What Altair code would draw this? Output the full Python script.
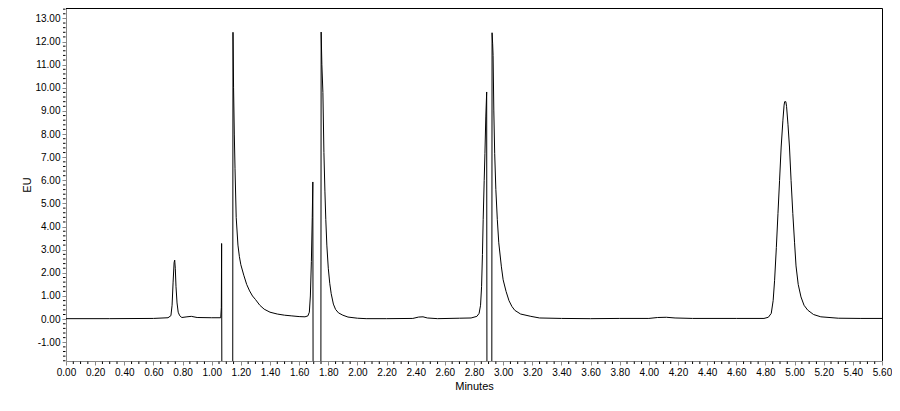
import altair as alt
import pandas as pd

# Chromatogram trace (time in minutes, signal in EU)
times = [
    0.00, 0.30, 0.60, 0.70, 0.72, 0.728, 0.735, 0.742, 0.746, 0.750, 0.755, 0.762, 0.770, 0.780, 0.795,
    0.83, 0.86, 0.90, 1.00, 1.062, 1.066, 1.068, 1.070, 1.144, 1.146, 1.150, 1.155, 1.160, 1.168, 1.18,
    1.19, 1.20, 1.22, 1.24, 1.26, 1.28, 1.30, 1.33, 1.36, 1.40, 1.45, 1.50, 1.55, 1.60, 1.64,
    1.66, 1.67, 1.677, 1.684, 1.690, 1.694, 1.696, 1.749, 1.751, 1.756, 1.763, 1.770, 1.777, 1.783, 1.79,
    1.80, 1.81, 1.82, 1.835, 1.85, 1.87, 1.90, 1.935, 2.00, 2.06, 2.20, 2.38, 2.42, 2.45, 2.48,
    2.55, 2.70, 2.78, 2.82, 2.835, 2.845, 2.852, 2.858, 2.863, 2.870, 2.875, 2.881, 2.887, 2.889, 2.922,
    2.924, 2.928, 2.931, 2.936, 2.942, 2.95, 2.96, 2.97, 2.988, 3.00, 3.02, 3.04, 3.06, 3.08, 3.12,
    3.19, 3.25, 3.40, 3.60, 3.80, 4.00, 4.06, 4.12, 4.18, 4.30, 4.60, 4.79, 4.82, 4.84, 4.853,
    4.863, 4.875, 4.886, 4.897, 4.908, 4.92, 4.928, 4.932, 4.940, 4.945, 4.955, 4.965, 4.976, 4.988, 5.00,
    5.01, 5.025, 5.044, 5.065, 5.09, 5.13, 5.18, 5.30, 5.45, 5.60,
]
signal = [
    0.02, 0.02, 0.03, 0.06, 0.15, 0.6, 1.6, 2.45, 2.55, 2.2, 1.4, 0.7, 0.3, 0.15, 0.07,
    0.10, 0.12, 0.07, 0.06, 0.06, 0.5, 3.27, -4.0, -4.0, 12.4, 10.0, 8.0, 6.5, 4.4, 3.2,
    2.7, 2.35, 1.9, 1.5, 1.22, 1.0, 0.85, 0.6, 0.43, 0.3, 0.22, 0.17, 0.14, 0.11, 0.10,
    0.14, 0.3, 1.0, 2.5, 4.4, 5.93, -4.0, -4.0, 12.41, 11.0, 9.8, 7.2, 5.5, 4.3, 3.2,
    2.2, 1.55, 1.1, 0.65, 0.42, 0.27, 0.17, 0.09, 0.04, 0.02, 0.02, 0.03, 0.09, 0.10, 0.05,
    0.02, 0.04, 0.05, 0.12, 0.25, 0.6, 1.4, 2.8, 4.3, 6.0, 7.15, 8.74, 9.82, -4.0, -4.0,
    12.38, 11.9, 11.4, 9.0, 7.15, 5.6, 4.3, 3.3, 2.26, 1.7, 1.2, 0.8, 0.55, 0.38, 0.22,
    0.12, 0.05, 0.03, 0.02, 0.03, 0.03, 0.07, 0.08, 0.05, 0.03, 0.03, 0.03, 0.08, 0.25, 0.8,
    1.68, 3.1, 4.56, 6.0, 7.44, 8.6, 9.25, 9.4, 9.4, 9.2, 8.4, 7.44, 6.0, 4.56, 3.3,
    2.3, 1.5, 0.96, 0.6, 0.39, 0.2, 0.1, 0.04, 0.03, 0.03,
]

x_major = [round(0.2 * i, 2) for i in range(29)]
y_major = list(range(-1, 14))
x_minor = [round(0.05 * i, 2) for i in range(113) if i % 4 != 0]
y_minor = [round(-1.8 + 0.2 * i, 1) for i in range(77) if (i - 9) % 5 != 0]

X_DOMAIN = [0, 5.6]
Y_DOMAIN = [-1.81, 13.45]
W, H = 816, 353
FONT = "Liberation Sans"
TXT = "#333333"

df = pd.DataFrame({"t": times, "eu": signal})

xscale = alt.Scale(domain=X_DOMAIN, nice=False, zero=False)
yscale = alt.Scale(domain=Y_DOMAIN, nice=False, zero=False)

lbl = "datum.value < 0 ? '-' + format(-datum.value, '.2f') : format(datum.value, '.2f')"

xaxis = alt.Axis(values=x_major, labelExpr=lbl, title="Minutes", grid=False,
                 tickSize=4, labelFlush=False, labelOverlap=False, labelPadding=2,
                 titlePadding=3, titleFontWeight=400, labelFontSize=10)
yaxis = alt.Axis(values=y_major, labelExpr=lbl, title="EU", grid=False,
                 tickSize=4, labelPadding=2, titlePadding=2, titleFontWeight=400,
                 labelFontSize=10)

line = alt.Chart(df).mark_line(color="black", strokeWidth=1, clip=True).encode(
    x=alt.X("t:Q", scale=xscale, axis=xaxis),
    y=alt.Y("eu:Q", scale=yscale, axis=yaxis),
)

xm = alt.Chart(pd.DataFrame({"xm": x_minor})).mark_rule(color="black", strokeWidth=1).encode(
    x=alt.X("xm:Q", scale=xscale, axis=xaxis),
    y=alt.value(H + 0.5), y2=alt.value(H + 3),
)
ym = alt.Chart(pd.DataFrame({"ym": y_minor})).mark_rule(color="black", strokeWidth=1).encode(
    y=alt.Y("ym:Q", scale=yscale, axis=yaxis),
    x=alt.value(-0.5), x2=alt.value(-3),
)

# plot frame (top and right edges)
frame_top = alt.Chart(pd.DataFrame({"k": [0]})).mark_rule(color="black", strokeWidth=1).encode(
    x=alt.value(0), x2=alt.value(W + 0.5), y=alt.value(0.5),
)
frame_right = alt.Chart(pd.DataFrame({"k": [0]})).mark_rule(color="black", strokeWidth=1).encode(
    x=alt.value(W + 0.5), y=alt.value(0.5), y2=alt.value(H),
)

chart = alt.layer(line, xm, ym, frame_top, frame_right).properties(
    width=W, height=H,
    autosize=alt.AutoSizeParams(type="none"),
    padding={"left": 58, "top": 0, "right": 10, "bottom": 42},
).configure_view(stroke=None).configure_axis(
    labelFont=FONT, labelFontSize=10, labelColor=TXT,
    titleFont=FONT, titleFontSize=10, titleFontWeight=400, titleColor=TXT,
    domainColor="black", tickColor="black", domainWidth=1, tickWidth=1,
).configure(background="white")

chart.save("out.html", embed_options={"renderer": "svg", "actions": False})
